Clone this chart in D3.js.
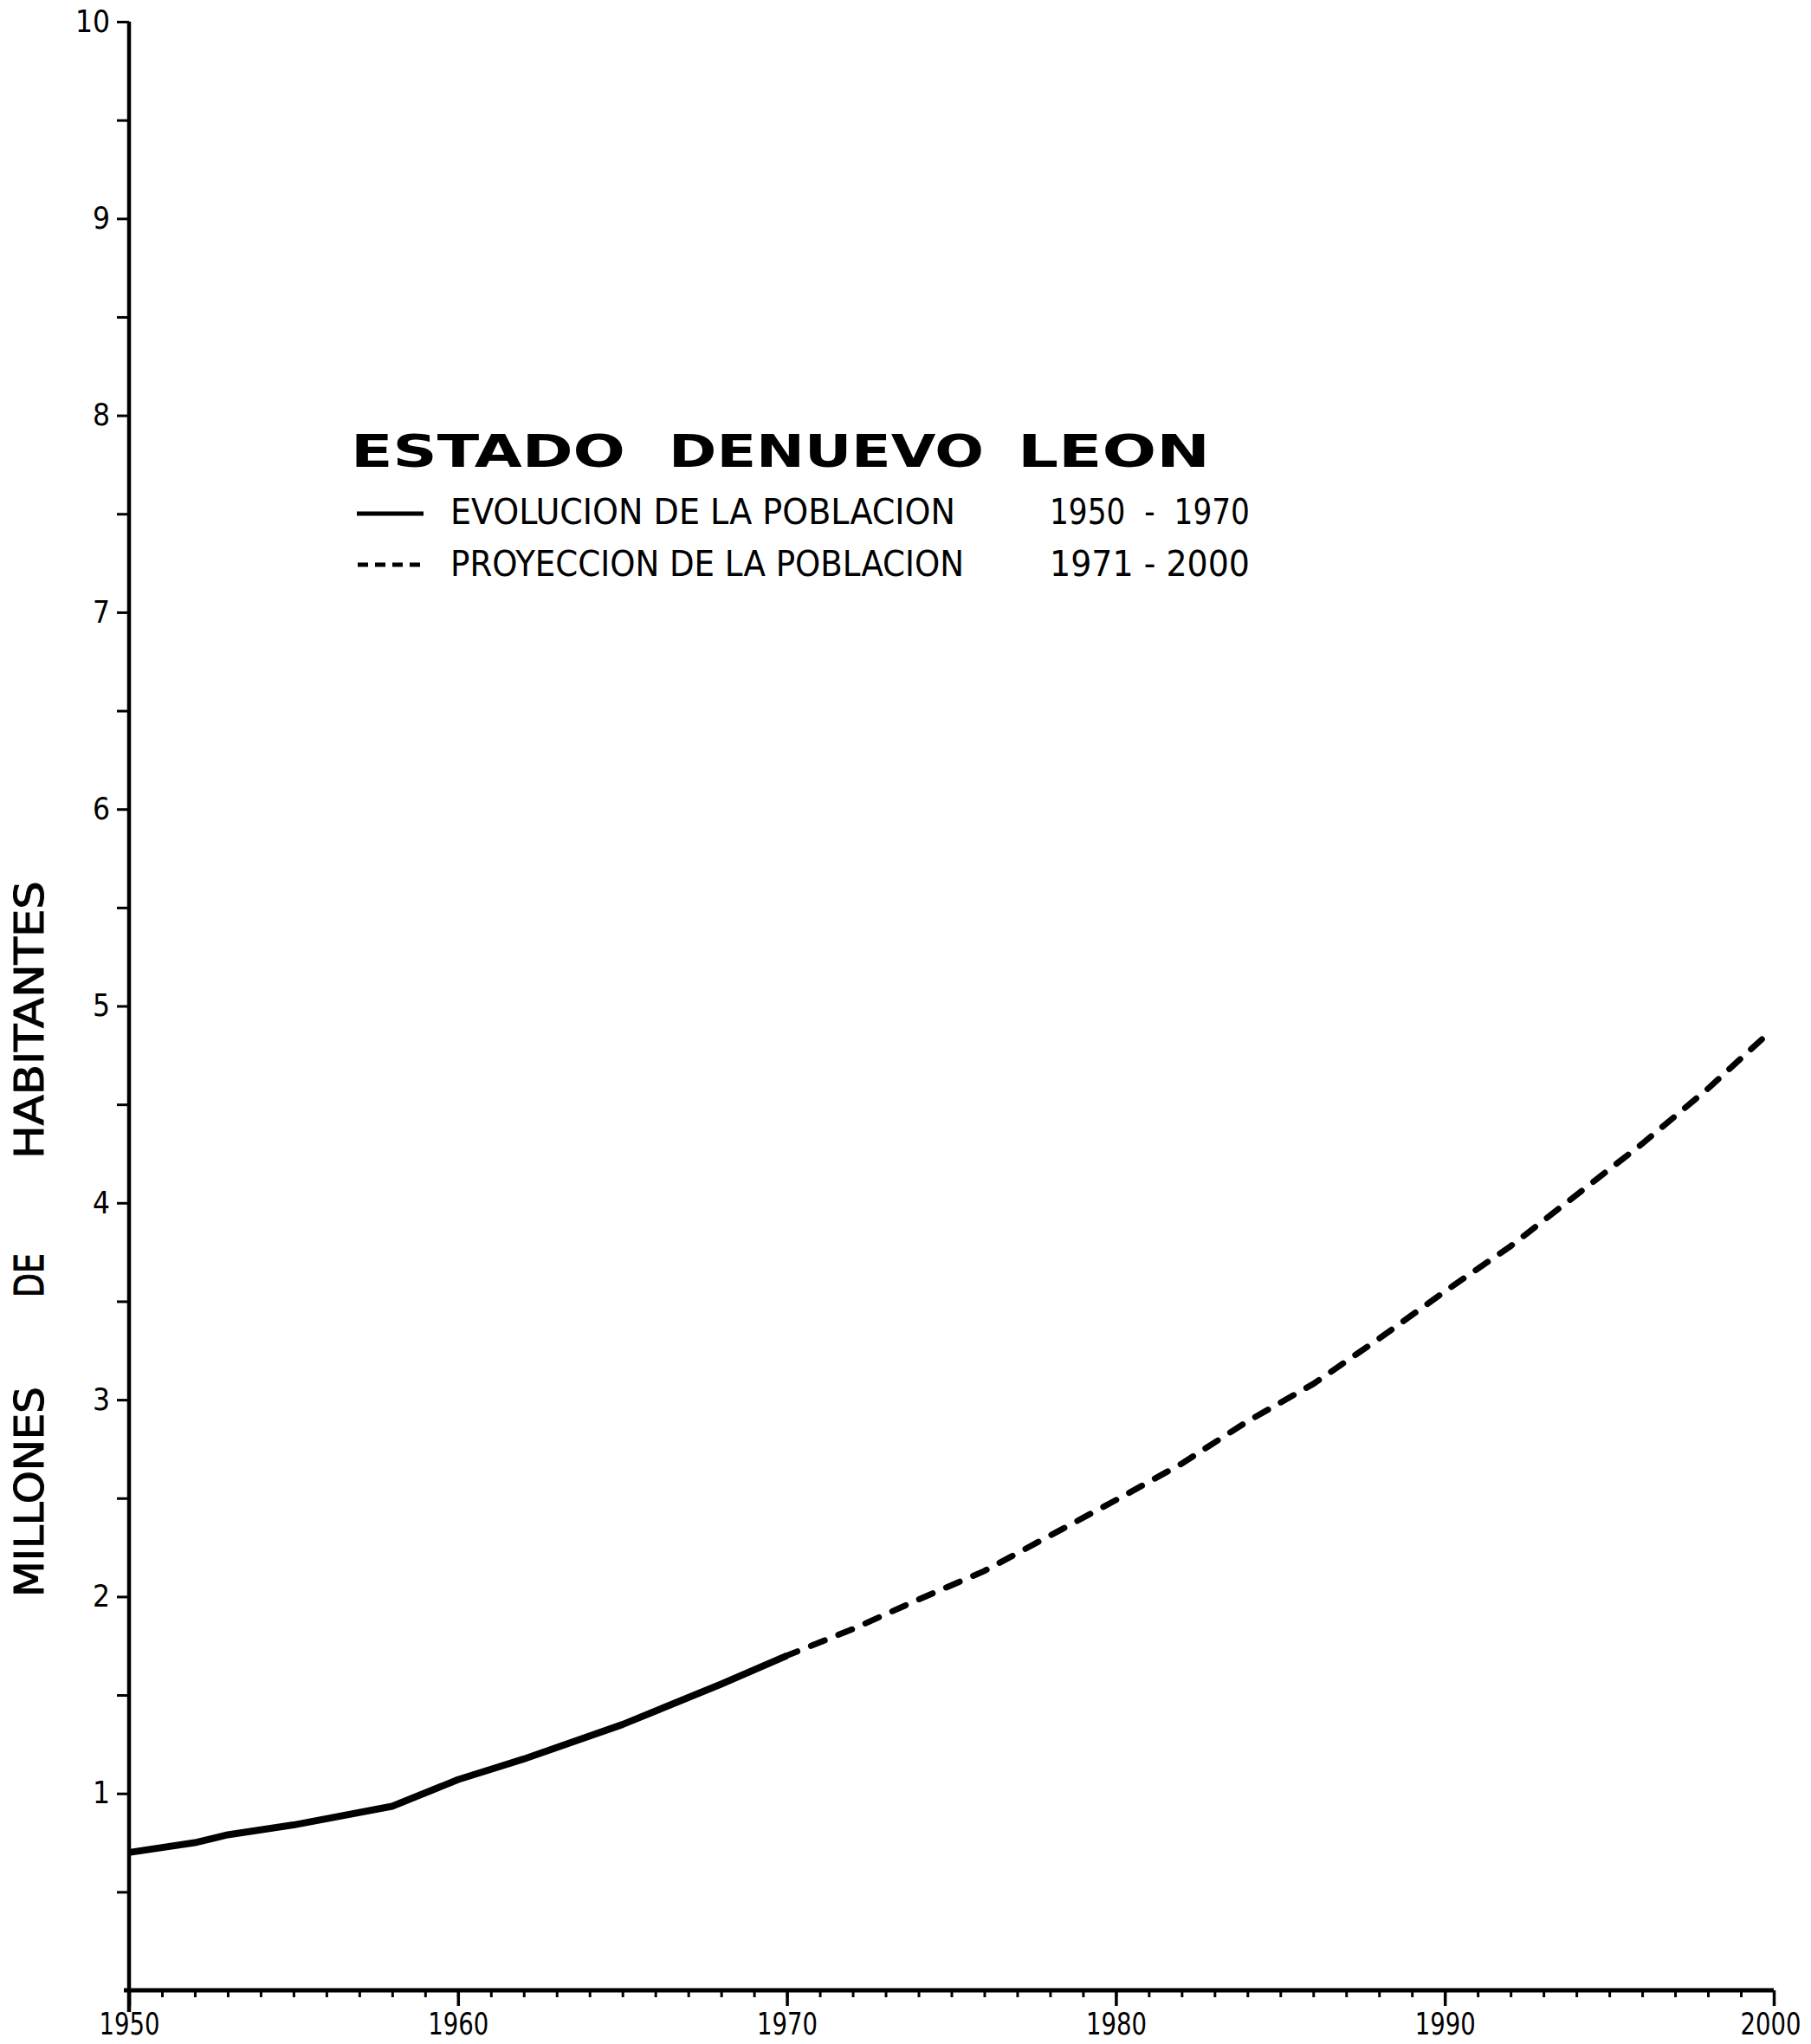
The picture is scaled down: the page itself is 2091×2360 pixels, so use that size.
<!DOCTYPE html>
<html>
<head>
<meta charset="utf-8">
<script src="https://cdn.jsdelivr.net/npm/d3@7"></script>
<style>
  html, body { margin: 0; padding: 0; background: #fff; }
  svg { display: block; }
  .cond { font-family: "DejaVu Sans Condensed", "Liberation Sans Narrow", "DejaVu Sans", sans-serif; font-stretch: condensed; }
</style>
</head>
<body>
<script>
// ---- data ----
const titleWords = ["ESTADO", "DENUEVO", "LEON"];
const yAxisTitleWords = ["MILLONES", "DE", "HABITANTES"];
const legendLabels = ["EVOLUCION DE LA POBLACION", "PROYECCION DE LA POBLACION"];
const legendRanges = ["1950  -  1970", "1971 - 2000"];
const xTickLabels = [1950, 1960, 1970, 1980, 1990, 2000];
const yTickLabels = [1, 2, 3, 4, 5, 6, 7, 8, 9, 10];

// Evolución 1950-1970 (millones de habitantes)
const histYears  = [1950, 1952, 1953, 1955, 1958, 1960, 1962, 1965, 1968, 1970];
const histValues = [0.70, 0.75, 0.79, 0.84, 0.935, 1.07, 1.175, 1.35, 1.555, 1.70];

// Proyección 1971-2000
const projYears  = [1970, 1972, 1974, 1976, 1978, 1980, 1982, 1984, 1986, 1988, 1990, 1992, 1994, 1996, 1998, 1999.7];
const projValues = [1.70, 1.835, 1.985, 2.13, 2.31, 2.49, 2.675, 2.89, 3.08, 3.31, 3.55, 3.78, 4.04, 4.30, 4.58, 4.84];

// ---- drawing ----
const W = 2091, H = 2360;
const svg = d3.select("body").append("svg").attr("width", W).attr("height", H);
svg.append("rect").attr("width", W).attr("height", H).attr("fill", "#fff");

const x = d3.scaleLinear().domain([1950, 2000]).range([149, 2048]);
const y = d3.scaleLinear().domain([0, 10]).range([2298, 25]);

// y axis (ticks every 0.5, labels on integers)
const yAxis = d3.axisLeft(y)
  .tickValues(d3.range(0.5, 10.01, 0.5))
  .tickSize(14)
  .tickPadding(8)
  .tickFormat(d => yTickLabels.includes(d) ? String(d) : "");
const gy = svg.append("g").attr("transform", `translate(${x(1950)},0)`).call(yAxis);
gy.select(".domain").remove();
gy.selectAll(".tick line").attr("stroke", "#000").attr("stroke-width", 3);
gy.selectAll(".tick text").attr("class", "cond").attr("font-size", 35).attr("fill", "#000");

// y axis line (extends slightly below the x axis)
svg.append("line").attr("x1", x(1950)).attr("x2", x(1950))
  .attr("y1", y(10)).attr("y2", y(0) + 25)
  .attr("stroke", "#000").attr("stroke-width", 4.5);

// x axis: yearly minor ticks
const gxMinor = svg.append("g").attr("transform", `translate(0,${y(0)})`)
  .call(d3.axisBottom(x).tickValues(d3.range(1950, 2001, 1)).tickSize(8).tickFormat(""));
gxMinor.select(".domain").remove();
gxMinor.selectAll(".tick line").attr("stroke", "#000").attr("stroke-width", 3);

// x axis: decade ticks with labels
const gxMajor = svg.append("g").attr("transform", `translate(0,${y(0)})`)
  .call(d3.axisBottom(x).tickValues(xTickLabels).tickSize(18).tickFormat(d3.format("d")));
gxMajor.select(".domain").remove();
gxMajor.selectAll(".tick line").attr("stroke", "#000").attr("stroke-width", 3.5);
gxMajor.selectAll(".tick text").attr("class", "cond").attr("font-size", 35).attr("fill", "#000")
  .attr("y", 51).attr("dy", 0)
  .attr("textLength", 70).attr("lengthAdjust", "spacingAndGlyphs");
gxMajor.selectAll(".tick text").filter(d => d === 2000).attr("dx", -4);

// x axis line
svg.append("line").attr("x1", x(1950) - 6).attr("x2", x(2000))
  .attr("y1", y(0)).attr("y2", y(0))
  .attr("stroke", "#000").attr("stroke-width", 5);

// y axis title (rotated), words placed separately
const yTitle = svg.append("g").attr("transform", "translate(50,0) rotate(-90)");
const yTitlePos = [{start: 1844, len: 243}, {start: 1498, len: 51}, {start: 1338, len: 321}];
yAxisTitleWords.forEach((w, i) => {
  yTitle.append("text").attr("class", "cond")
    .attr("x", -yTitlePos[i].start).attr("y", 0)
    .attr("font-size", 46).attr("fill", "#000")
    .attr("stroke", "#000").attr("stroke-width", 1)
    .attr("textLength", yTitlePos[i].len).attr("lengthAdjust", "spacingAndGlyphs")
    .text(w);
});

// lines
const line = d3.line().x(d => x(d[0])).y(d => y(d[1]));
const histData = histYears.map((yr, i) => [yr, histValues[i]]);
const projData = projYears.map((yr, i) => [yr, projValues[i]]);

svg.append("path").datum(projData).attr("d", line)
  .attr("fill", "none").attr("stroke", "#000").attr("stroke-width", 7)
  .attr("stroke-linecap", "round").attr("stroke-dasharray", "17 17")
  .attr("stroke-dashoffset", -30);

svg.append("path").datum(histData).attr("d", line)
  .attr("fill", "none").attr("stroke", "#000").attr("stroke-width", 8)
  .attr("stroke-linejoin", "round").attr("stroke-linecap", "butt");

// title
const titlePos = [{x: 405, len: 317}, {x: 772, len: 364}, {x: 1175, len: 222}];
titleWords.forEach((w, i) => {
  svg.append("text")
    .attr("x", titlePos[i].x).attr("y", 539)
    .attr("font-family", "'DejaVu Sans', Verdana, sans-serif")
    .attr("font-weight", "bold").attr("font-size", 51).attr("fill", "#000")
    .attr("textLength", titlePos[i].len).attr("lengthAdjust", "spacingAndGlyphs")
    .text(w);
});

// legend
const legendY = [593, 652];
const legendTextBaseline = [605, 665];
const legendTextLen = [583, 593];
// solid sample
svg.append("line").attr("x1", 412).attr("x2", 489).attr("y1", legendY[0]).attr("y2", legendY[0])
  .attr("stroke", "#000").attr("stroke-width", 5);
// dashed sample
svg.append("line").attr("x1", 413).attr("x2", 485).attr("y1", legendY[1]).attr("y2", legendY[1])
  .attr("stroke", "#000").attr("stroke-width", 5).attr("stroke-dasharray", "12 8");
legendLabels.forEach((t, i) => {
  svg.append("text").attr("class", "cond")
    .attr("x", 520).attr("y", legendTextBaseline[i])
    .attr("font-size", 40).attr("fill", "#000")
    .attr("textLength", legendTextLen[i]).attr("lengthAdjust", "spacingAndGlyphs")
    .text(t);
  svg.append("text").attr("class", "cond")
    .attr("x", 1212).attr("y", legendTextBaseline[i])
    .attr("font-size", 40).attr("fill", "#000")
    .attr("textLength", 231).attr("lengthAdjust", "spacingAndGlyphs")
    .attr("xml:space", "preserve")
    .text(legendRanges[i]);
});
</script>
</body>
</html>
